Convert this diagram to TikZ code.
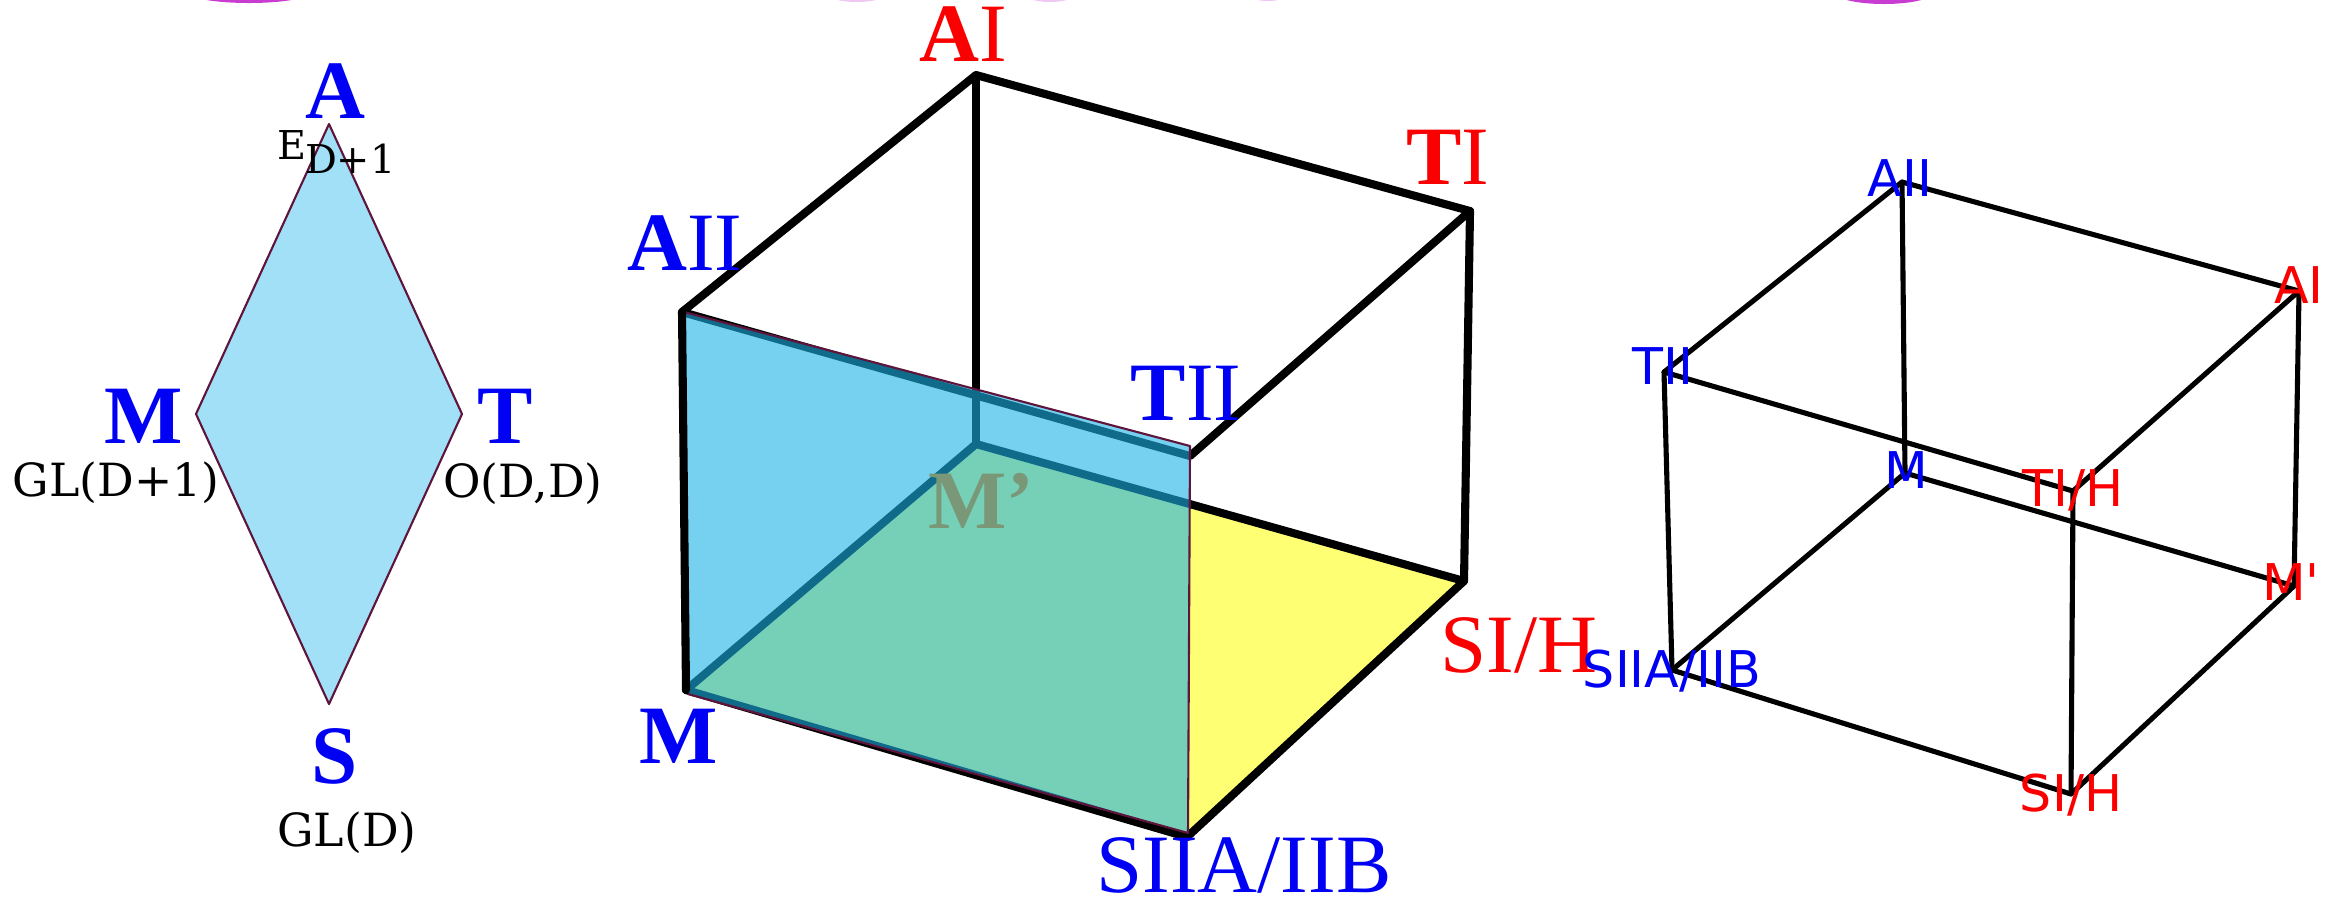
\documentclass[tikz,border=0pt]{standalone}
\usepackage{fontspec}
\setmainfont{Liberation Serif}
\newfontfamily\copfont{DejaVu Serif}
\newfontfamily\dvsfont{DejaVu Sans}
\definecolor{lblblue}{RGB}{0,0,245}
\definecolor{lblred}{RGB}{250,0,0}
\definecolor{diafill}{RGB}{161,224,247}
\definecolor{maroon}{RGB}{95,20,60}
\definecolor{facecol}{RGB}{27,178,230}
\definecolor{yell}{RGB}{255,255,115}
\definecolor{mpcol}{RGB}{122,152,120}
\definecolor{purp}{RGB}{200,60,210}
\definecolor{purplt}{RGB}{238,200,242}
\tikzset{
  lbl/.style={anchor=base, inner sep=0pt, outer sep=0pt},
  bigserif/.style={font=\fontsize{23.6}{28}\selectfont},
  cop/.style={font=\copfont\fontsize{13}{16}\selectfont},
  copsmall/.style={font=\copfont\fontsize{11.3}{14}\selectfont},
  sanslbl/.style={font=\dvsfont\fontsize{14.4}{17}\selectfont},
  edgeB/.style={line width=2.3pt, black, line cap=round, line join=round},
  edgeC/.style={line width=1.45pt, black, line cap=round, line join=round},
  thinborder/.style={draw=maroon, line width=0.6pt, line join=round}
}
\begin{document}
\begin{tikzpicture}[x=0.01cm,y=-0.01cm]
\useasboundingbox (0,0) rectangle (2328,905);
% cropped purple fragments at the top edge
\begin{scope}
\clip (0,0) rectangle (2328,905);
\fill[purp] (249,-8) ellipse [x radius=62, y radius=11];
\fill[purp] (1884,-8) ellipse [x radius=50, y radius=12];
\fill[purplt] (857,-8) ellipse [x radius=32, y radius=10];
\fill[purplt] (1050,-8) ellipse [x radius=28, y radius=10];
\fill[purplt] (1268,-8) ellipse [x radius=23, y radius=9];
\end{scope}

% ---------- diamond ----------
\coordinate (dTop) at (329,124);
\coordinate (dLeft) at (196,414);
\coordinate (dRight) at (462,414);
\coordinate (dBot) at (329,704);
\filldraw[fill=diafill, thinborder] (dTop) -- (dRight) -- (dBot) -- (dLeft) -- cycle;
\node[lbl, bigserif, text=lblblue] (dA) at (335,118) {\bfseries A};
\node[lbl, bigserif, text=lblblue] (dM) at (144,443) {\bfseries M};
\node[lbl, bigserif, text=lblblue] (dT) at (505,443) {\bfseries T};
\node[lbl, bigserif, text=lblblue] (dS) at (335,783) {\bfseries S};
\node[lbl, copsmall, anchor=base west] (dE) at (277,159) {E};
\node[lbl, copsmall, anchor=base west] (dD) at (305,173) {D+1};
\node[lbl, cop] (dGL1) at (116,496) {GL(D+1)};
\node[lbl, cop] (dO) at (523,497) {O(D,D)};
\node[lbl, cop] (dGL) at (347,846) {GL(D)};

% ---------- middle cube ----------
\coordinate (cAI) at (976,75);
\coordinate (cTI) at (1470,211);
\coordinate (cAII) at (682,312);
\coordinate (cTII) at (1190,456);
\coordinate (cMp) at (976,444);
\coordinate (cSI) at (1464,581);
\coordinate (cM) at (686,690);
\coordinate (cS2) at (1187,837);
% bottom face
\filldraw[fill=yell, thinborder] (cM) -- (cMp) -- (cSI) -- (cS2) -- cycle;
% edges
\draw[edgeB] (cAII) -- (cAI) -- (cTI) -- (cTII) -- (cAII);
\draw[edgeB] (cTI) -- (cSI);
\draw[edgeB] (cAI) -- (cMp);
\draw[edgeB] (cM) -- (cMp) -- (cSI);
\draw[edgeB] (cM) -- (cS2) -- (cSI);
% front face (semi transparent)
\fill[facecol, fill opacity=0.6] (684,312) -- (1190,446) -- (1188,833) -- (688,694) -- cycle;
\draw[maroon, line width=0.6pt, line join=round] (684,312) -- (1190,446) -- (1188,833) -- (688,694);
\draw[edgeB] (cAII) -- (cM);
\node[lbl, bigserif, text=mpcol] (cMpl) at (981,528) {\bfseries M’};
\node[lbl, bigserif, text=lblred] (lAI) at (963,61) {{\bfseries A}I};
\node[lbl, bigserif, text=lblred] (lTI) at (1448,184) {{\bfseries T}I};
\node[lbl, bigserif, text=lblblue] (lAII) at (685,270) {{\bfseries A}II};
\node[lbl, bigserif, text=lblblue] (lTII) at (1186,420) {{\bfseries T}II};
\node[lbl, bigserif, text=lblblue] (lM) at (679,763) {\bfseries M};
\node[lbl, bigserif, text=lblblue] (lS2) at (1244,892) {SIIA/IIB};
\node[lbl, bigserif, text=lblred] (lSI) at (1519,672) {SI/H};

% ---------- right cube ----------
\coordinate (rAII) at (1902,182);
\coordinate (rAI) at (2299,291);
\coordinate (rTII) at (1664,372);
\coordinate (rTIH) at (2073,491);
\coordinate (rM) at (1905,473);
\coordinate (rMp) at (2294,586);
\coordinate (rS2) at (1672,670);
\coordinate (rSI) at (2071,794);
\draw[edgeC] (rAII) -- (rAI) -- (rTIH) -- (rTII) -- cycle;
\draw[edgeC] (rM) -- (rMp) -- (rSI) -- (rS2) -- cycle;
\draw[edgeC] (rAII) -- (rM);
\draw[edgeC] (rAI) -- (rMp);
\draw[edgeC] (rTIH) -- (rSI);
\draw[edgeC] (rTII) -- (rS2);
\node[lbl, sanslbl, text=lblblue] (qAII) at (1900,196) {AII};
\node[lbl, sanslbl, text=lblred] (qAI) at (2299,303) {AI};
\node[lbl, sanslbl, text=lblblue] (qTII) at (1663,384) {TII};
\node[lbl, sanslbl, text=lblred] (qTIH) at (2073,506) {TI/H};
\node[lbl, sanslbl, text=lblblue] (qM) at (1906,488) {M};
\node[lbl, sanslbl, text=lblred] (qMp) at (2291,600) {M'};
\node[lbl, sanslbl, text=lblblue] (qS2) at (1672,687) {SIIA/IIB};
\node[lbl, sanslbl, text=lblred] (qSI) at (2071,811) {SI/H};
\end{tikzpicture}
\end{document}
